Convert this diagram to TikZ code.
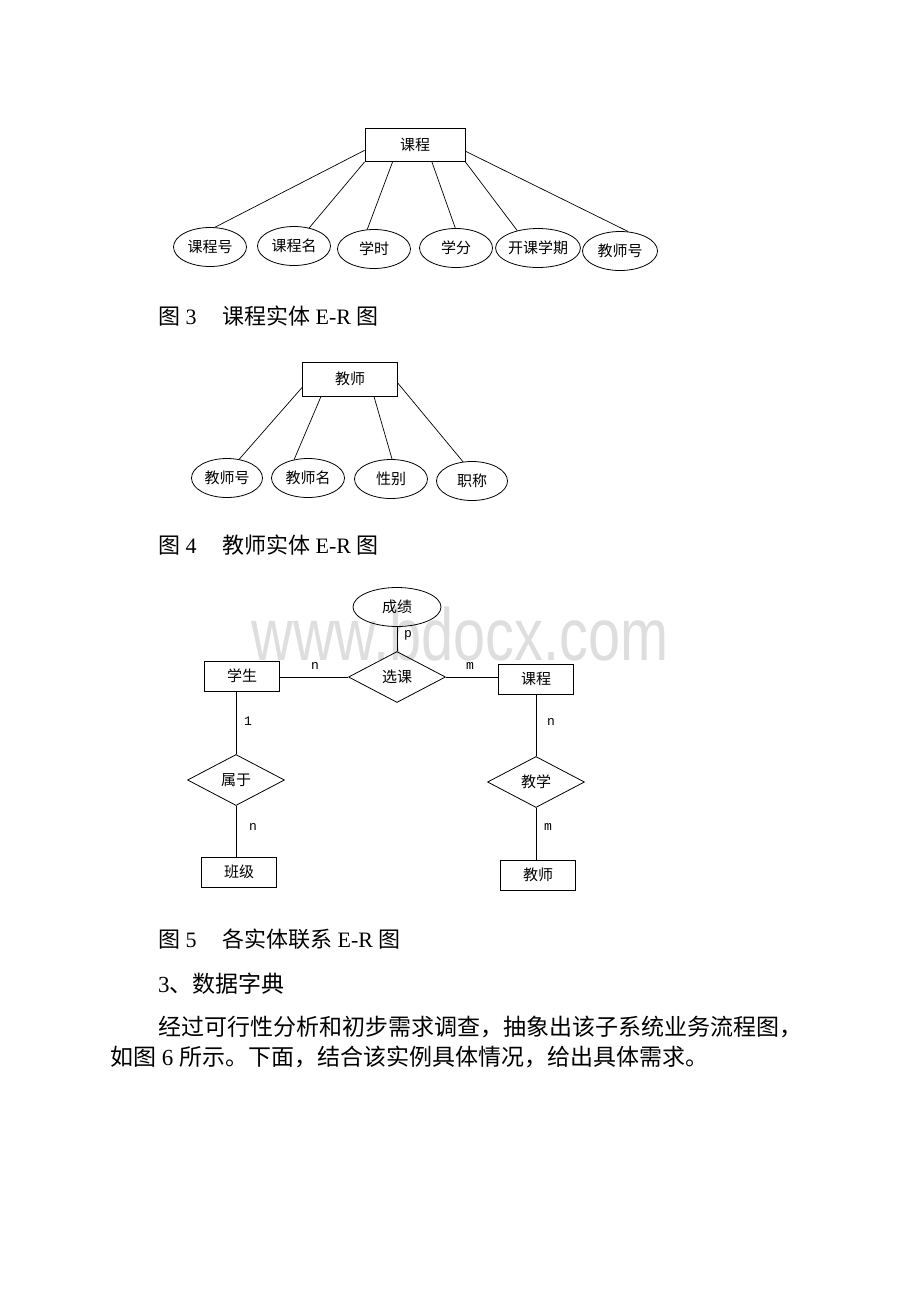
\documentclass[tikz,border=0pt]{standalone}
\usepackage{fontspec}
\setmainfont{Liberation Serif}
\newfontfamily\cjk{Noto Sans CJK SC}
\newfontfamily\cardfont{Liberation Mono}
\newfontfamily\markfont{Liberation Sans}
\usetikzlibrary{shapes.geometric}
\definecolor{markgray}{RGB}{222,222,222}

\tikzset{
  entity/.style={draw, line width=0.8pt, inner sep=0pt, minimum width=75pt, minimum height=30pt, font=\cjk\fontsize{15}{18}\selectfont},
  attribute/.style={draw, ellipse, line width=0.8pt, inner sep=0pt, minimum width=73pt, minimum height=39pt, font=\cjk\fontsize{15}{18}\selectfont},
  relation/.style={draw, diamond, line width=0.8pt, inner sep=0pt, minimum width=97pt, minimum height=51pt, font=\cjk\fontsize{15}{18}\selectfont},
  link/.style={line width=0.7pt},
  card/.style={inner sep=0pt, font=\cardfont\fontsize{13}{15}\selectfont},
  caption/.style={anchor=west, inner sep=0pt, font=\fontsize{22}{26}\selectfont},
  bodytext/.style={anchor=west, inner sep=0pt, font=\cjk\fontsize{23}{27}\selectfont},
}

\begin{document}
\begin{tikzpicture}[x=1pt, y=-1pt]
\useasboundingbox (0,0) rectangle (920,1302);

% course entity
\node[entity, minimum width=100pt, minimum height=33pt] (kc) at (415,145) {课程};
\node[attribute] (kch) at (210,247) {课程号};
\node[attribute] (kcm) at (294,246) {课程名};
\node[attribute] (xs) at (374,249) {学时};
\node[attribute] (xf) at (456,248) {学分};
\node[attribute] (kkxq) at (538,248) {开课学期};
\node[attribute, minimum width=75pt] (jsh) at (620,251) {教师号};
\draw[link] (kc.186) -- (kch.76);
\draw[link] (kc.south west) -- (kcm.50);
\draw[link] (kc.-143) -- (xs.109);
\draw[link] (kc.-45) -- (xf.92);
\draw[link] (kc.south east) -- (kkxq.140);
\draw[link] (kc.-7) -- (jsh.67);
\node[caption] (cap3) at (158,316) {\makebox[64pt][l]{{\cjk 图} 3}{\cjk 课程实体} E-R {\cjk 图}};

% teacher entity
\node[entity, minimum width=95pt, minimum height=34pt] (js) at (350,379) {教师};
\node[attribute, minimum width=71pt] (jsh2) at (227,478) {教师号};
\node[attribute] (jsm) at (308,478) {教师名};
\node[attribute] (xb) at (391,479) {性别};
\node[attribute, minimum width=71pt] (zc) at (472,481) {职称};
\draw[link] (js.190) -- (jsh2.57);
\draw[link] (js.211) -- (jsm.127);
\draw[link] (js.-36) -- (xb.87);
\draw[link] (js.-5) -- (zc.115);
\node[caption] (cap4) at (158,545) {\makebox[64pt][l]{{\cjk 图} 4}{\cjk 教师实体} E-R {\cjk 图}};

% relations
\node[anchor=base, inner sep=0pt, text=markgray, font=\markfont\fontsize{74}{80}\selectfont] (mark) at (460,660) {\scalebox{0.78}[1]{www.bdocx.com}};
\node[attribute, minimum width=88pt] (cj) at (397,607) {成绩};
\node[relation] (xk) at (397,677) {选课};
\node[entity] (xsh) at (242,676) {学生};
\node[entity] (kc2) at (536,679) {课程};
\node[relation] (sy) at (236,780) {属于};
\node[entity] (bj) at (239,872) {班级};
\node[relation] (jx) at (536,782) {教学};
\node[entity] (js2) at (538,875) {教师};
\draw[link] (cj) -- (xk);
\draw[link] (xk.west) -- (xk.west -| xsh.east);
\draw[link] (xk.east) -- (xk.east -| kc2.west);
\draw[link] (sy.north) -- (sy.north |- xsh.south);
\draw[link] (sy.south) -- (sy.south |- bj.north);
\draw[link] (jx.north) -- (jx.north |- kc2.south);
\draw[link] (jx.south) -- (jx.south |- js2.north);
\node[card] (cp) at (408,635) {p};
\node[card] (cn1) at (315,666) {n};
\node[card] (cm1) at (470,666) {m};
\node[card] (c1) at (248,721) {1};
\node[card] (cn2) at (253,827) {n};
\node[card] (cn3) at (551,722) {n};
\node[card] (cm2) at (548,827) {m};
\node[caption] (cap5) at (158,939) {\makebox[64pt][l]{{\cjk 图} 5}{\cjk 各实体联系} E-R {\cjk 图}};

% text below
\node[bodytext] (sec3) at (158,984) {{\rmfamily 3}、数据字典};
\node[bodytext] (par1) at (158,1027) {经过可行性分析和初步需求调查，抽象出该子系统业务流程图，};
\node[bodytext] (par2) at (110,1057) {如图{\rmfamily\ 6\ }所示。下面，结合该实例具体情况，给出具体需求。};
\end{tikzpicture}
\end{document}
